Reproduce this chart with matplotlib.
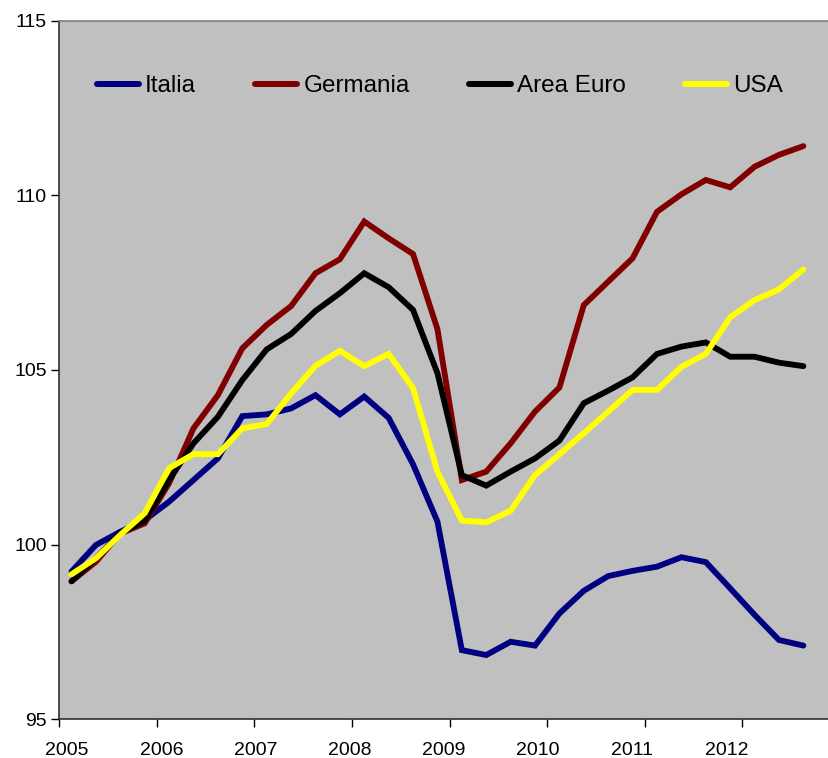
import matplotlib
matplotlib.use("Agg")
import matplotlib.pyplot as plt
import numpy as np

years = ["2005", "2006", "2007", "2008", "2009", "2010", "2011", "2012"]

italia = [99.23, 99.99, 100.37, 100.70, 101.23, 101.85, 102.47, 103.68, 103.73, 103.90,
          104.28, 103.73, 104.24, 103.63, 102.30, 100.66, 96.98, 96.84, 97.22, 97.11,
          98.03, 98.68, 99.10, 99.25, 99.37, 99.64, 99.50, 98.75, 97.99, 97.27, 97.11]
germania = [98.95, 99.51, 100.32, 100.61, 101.76, 103.33, 104.28, 105.62, 106.29, 106.83,
            107.77, 108.17, 109.25, 108.77, 108.32, 106.17, 101.85, 102.09, 102.90, 103.81,
            104.50, 106.86, 107.53, 108.20, 109.53, 110.03, 110.44, 110.23, 110.82, 111.16, 111.41]
area_euro = [98.95, 99.61, 100.32, 100.69, 101.85, 102.90, 103.66, 104.71, 105.59, 106.03,
             106.69, 107.20, 107.77, 107.37, 106.72, 104.91, 101.99, 101.69, 102.09, 102.47,
             102.98, 104.05, 104.41, 104.79, 105.46, 105.67, 105.79, 105.38, 105.38, 105.21, 105.11]
usa = [99.15, 99.61, 100.28, 100.90, 102.19, 102.59, 102.59, 103.33, 103.45, 104.33,
       105.12, 105.55, 105.11, 105.46, 104.48, 102.09, 100.69, 100.64, 100.97, 101.99,
       102.59, 103.19, 103.81, 104.43, 104.43, 105.09, 105.46, 106.51, 107.00, 107.31, 107.88]

series = [("Italia", italia, "#000080"),
          ("Germania", germania, "#800000"),
          ("Area Euro", area_euro, "#000000"),
          ("USA", usa, "#FFFF00")]

plt.rcParams['font.family'] = ['Liberation Sans', 'DejaVu Sans']

fig = plt.figure(figsize=(8.29, 7.58), dpi=100)
ax = fig.add_axes([59.3 / 829, 1 - 719.3 / 758, 1 - 59.3 / 829, (719.3 - 20.7) / 758])
ax.set_facecolor("#C0C0C0")

x = np.arange(len(italia))
for name, vals, col in series:
    ax.plot(x, vals, color=col, lw=4.2, label=name, solid_capstyle='round',
            solid_joinstyle='miter')

ax.set_xlim(-0.5, 31.05)
ax.set_ylim(95, 115)
ax.set_yticks([95, 100, 105, 110, 115])
ax.tick_params(axis='y', direction='out', length=6, width=1, labelsize=14, pad=3)

# major ticks at year boundaries, labels as minor ticks
ax.set_xticks(np.arange(-0.5, 31, 4))
ax.set_xticklabels([])
ax.set_xticks(-0.18 + 3.86 * np.arange(len(years)), minor=True)
ax.set_xticklabels(years, minor=True)
ax.tick_params(axis='x', which='major', direction='out', length=6, width=1)
ax.tick_params(axis='x', which='minor', length=0, labelsize=14, pad=16)

for s in ['left', 'bottom']:
    ax.spines[s].set_color('#303030')
    ax.spines[s].set_linewidth(1.2)
ax.spines['top'].set_color('#808080')
ax.spines['top'].set_linewidth(1.2)
ax.spines['right'].set_visible(False)

leg = ax.legend(loc='center left', bbox_to_anchor=(0.049, 0.9065), ncol=4, frameon=False,
                handlelength=1.73, handletextpad=0.25, columnspacing=2.43,
                prop={'size': 17.5},
                borderaxespad=0, borderpad=0)
for line in leg.get_lines():
    line.set_linewidth(4.3)
    line.set_solid_capstyle('round')

fig.savefig("out.png", dpi=100, facecolor='white')
